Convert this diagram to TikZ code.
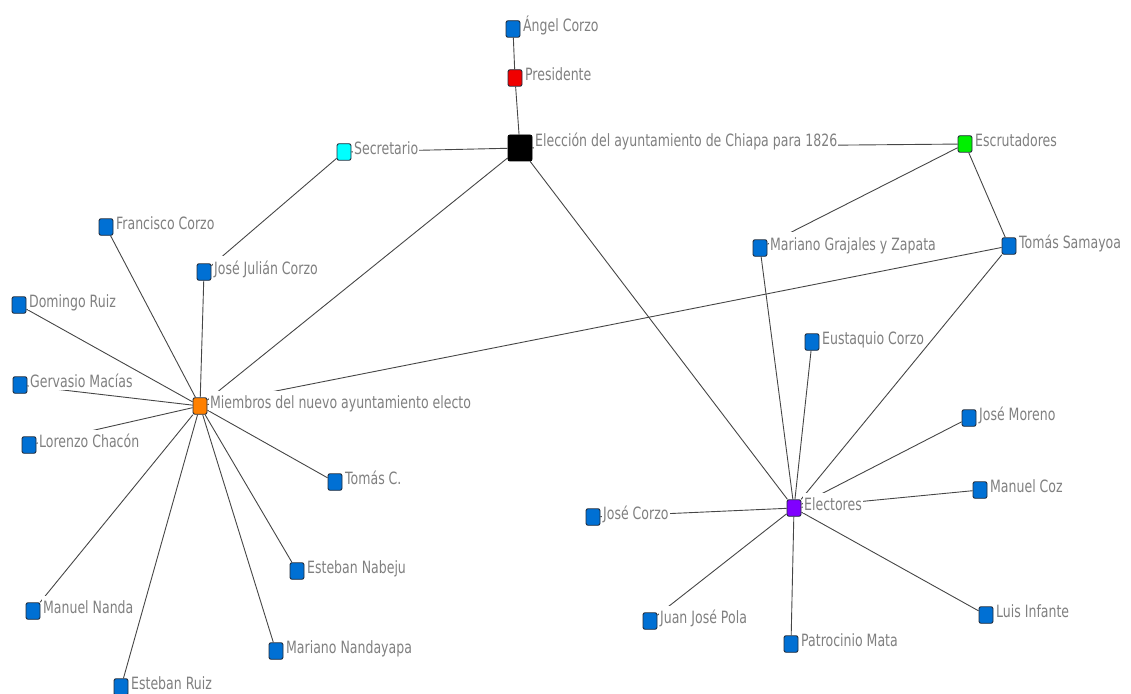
\documentclass[tikz,border=0pt]{standalone}
\usepackage{fontspec}
\newfontfamily\lblfamily[FakeStretch=0.74]{DejaVu Sans}
\pgfdeclarelayer{edges}
\pgfdeclarelayer{lbl}
\pgfsetlayers{edges,lbl,main}
\definecolor{nblue}{RGB}{0,112,212}
\definecolor{nborder}{RGB}{35,45,60}
\definecolor{ltext}{RGB}{128,128,128}
\definecolor{ecol}{RGB}{70,70,70}
\definecolor{ncyan}{RGB}{0,255,255}
\definecolor{ngreen}{RGB}{0,240,0}
\definecolor{nred}{RGB}{240,0,0}
\definecolor{norange}{RGB}{255,128,0}
\definecolor{npurple}{RGB}{128,0,255}
\tikzset{
  sq/.style={draw=nborder, line width=0.9bp, rounded corners=2bp, minimum width=14bp, minimum height=16.5bp, inner sep=0pt, fill=nblue},
  big/.style={sq, fill=black, draw=black, minimum width=24bp, minimum height=26bp},
  lbltext/.style={fill=white, text=ltext, font=\lblfamily\fontsize{17}{19}\selectfont, inner xsep=1bp, inner ysep=1bp, text height=17.4bp, text depth=1.5bp},
  edge/.style={draw=ecol, line width=0.9bp}
}
\newcommand\vtx[5]{%
  \node[#4] (#1) at (#2,#3) {};
  \begin{pgfonlayer}{lbl}
    \node[lbltext, anchor=north west] (#1-t) at ([xshift=1.5bp, yshift=7bp]#1.north east) {#5};
  \end{pgfonlayer}}
\begin{document}
\begin{tikzpicture}[x=1bp, y=-1bp]
\useasboundingbox (0,0) rectangle (1131,694);
\vtx{angel}{513}{29}{sq}{Ángel Corzo}
\vtx{pres}{515}{78}{sq, fill=nred}{Presidente}
\vtx{elec}{520}{148}{big}{Elección del ayuntamiento de Chiapa para 1826}
\vtx{secr}{344}{152}{sq, fill=ncyan}{Secretario}
\vtx{escr}{965}{144}{sq, fill=ngreen}{Escrutadores}
\vtx{fcorzo}{106}{227}{sq}{Francisco Corzo}
\vtx{jjcorzo}{204}{272}{sq}{José Julián Corzo}
\vtx{druiz}{19}{305}{sq}{Domingo Ruiz}
\vtx{gmacias}{20}{385}{sq}{Gervasio Macías}
\vtx{miem}{200}{406}{sq, fill=norange}{Miembros del nuevo ayuntamiento electo}
\vtx{lchacon}{29}{445}{sq}{Lorenzo Chacón}
\vtx{tomasc}{335}{482}{sq}{Tomás C.}
\vtx{enabeju}{297}{571}{sq}{Esteban Nabeju}
\vtx{mnanda}{33}{611}{sq}{Manuel Nanda}
\vtx{mnandayapa}{276}{651}{sq}{Mariano Nandayapa}
\vtx{eruiz}{121}{687}{sq}{Esteban Ruiz}
\vtx{mgrajales}{760}{248}{sq}{Mariano Grajales y Zapata}
\vtx{tsamayoa}{1009}{246}{sq}{Tomás Samayoa}
\vtx{eustaquio}{812}{342}{sq}{Eustaquio Corzo}
\vtx{jmoreno}{969}{418}{sq}{José Moreno}
\vtx{mcoz}{980}{490}{sq}{Manuel Coz}
\vtx{electores}{794}{508}{sq, fill=npurple}{Electores}
\vtx{jcorzo}{593}{517}{sq}{José Corzo}
\vtx{linfante}{986}{615}{sq}{Luis Infante}
\vtx{jjpola}{650}{621}{sq}{Juan José Pola}
\vtx{pmata}{791}{644}{sq}{Patrocinio Mata}
\begin{pgfonlayer}{edges}
\draw[edge] (angel) -- (pres);
\draw[edge] (pres) -- (elec);
\draw[edge] (elec) -- (secr);
\draw[edge] (elec) -- (escr);
\draw[edge] (elec) -- (miem);
\draw[edge] (elec) -- (electores);
\draw[edge] (secr) -- (jjcorzo);
\draw[edge] (escr) -- (mgrajales);
\draw[edge] (escr) -- (tsamayoa);
\draw[edge] (tsamayoa) -- (miem);
\draw[edge] (tsamayoa) -- (electores);
\draw[edge] (mgrajales) -- (electores);
\foreach \n in {fcorzo,jjcorzo,druiz,gmacias,lchacon,tomasc,enabeju,mnanda,mnandayapa,eruiz}
  \draw[edge] (miem) -- (\n);
\foreach \n in {eustaquio,jmoreno,mcoz,jcorzo,linfante,jjpola,pmata}
  \draw[edge] (electores) -- (\n);
\end{pgfonlayer}
\end{tikzpicture}
\end{document}
